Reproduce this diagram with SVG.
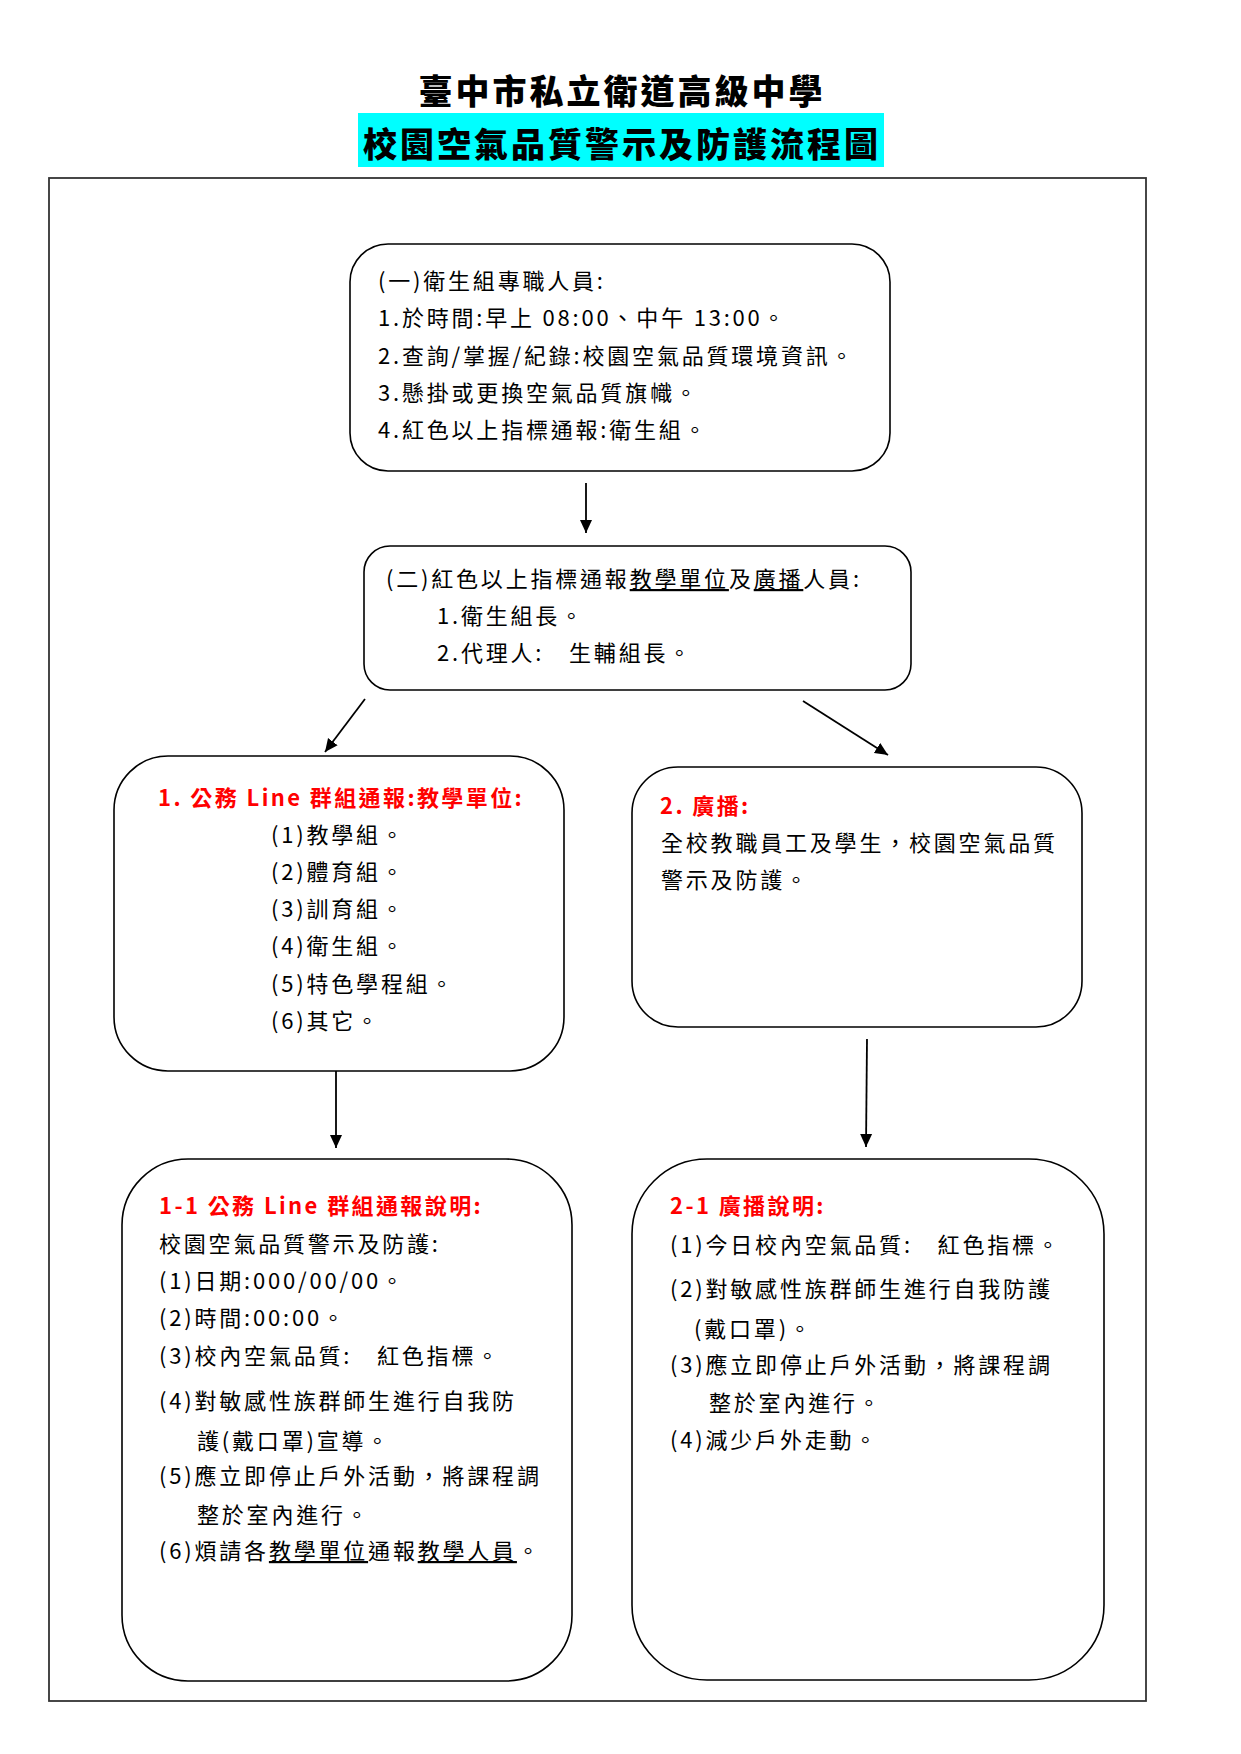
<svg xmlns="http://www.w3.org/2000/svg" width="1241" height="1754" viewBox="0 0 1241 1754">
<defs>
<marker id="arr" markerUnits="userSpaceOnUse" markerWidth="14" markerHeight="14" viewBox="0 0 14 14" refX="13" refY="7" orient="auto">
<path d="M0,1 L13,7 L0,13 z" fill="#000"/>
</marker>
<style>
.t{font-family:"Noto Sans CJK TC","Noto Sans CJK SC",sans-serif;font-size:22px;letter-spacing:2.8px;fill:#000}
.h{font-weight:700;fill:#ff0000;letter-spacing:2.4px}
.ttl{font-family:"Noto Sans CJK TC","Noto Sans CJK SC",sans-serif;font-size:34px;font-weight:900;letter-spacing:3px;fill:#000;text-anchor:middle}
.box{fill:#fff;stroke:#000;stroke-width:1.6}
.u{text-decoration:underline}
.c{stroke:#000;stroke-width:1.8;fill:none}
</style>
</defs>
<rect width="1241" height="1754" fill="#fff"/>

<g id="header">
<text class="ttl" x="622" y="104">臺中市私立衛道高級中學</text>
<rect x="358" y="113" width="526" height="54" fill="#00ffff"/>
<text class="ttl" x="622" y="157">校園空氣品質警示及防護流程圖</text>
</g>

<rect id="frame" x="49" y="178" width="1097" height="1523" fill="none" stroke="#333" stroke-width="1.8"/>

<g id="connectors">
<line class="c" x1="586" y1="483" x2="586" y2="533" marker-end="url(#arr)"/>
<line class="c" x1="365" y1="699" x2="325" y2="752" marker-end="url(#arr)"/>
<line class="c" x1="803" y1="701" x2="888" y2="755" marker-end="url(#arr)"/>
<line class="c" x1="336" y1="1071" x2="336" y2="1148" marker-end="url(#arr)"/>
<line class="c" x1="867" y1="1039" x2="866" y2="1147" marker-end="url(#arr)"/>
</g>

<g id="node1">
<rect class="box" x="350" y="244" width="540" height="227" rx="38" ry="38"/>
<text class="t" x="378" y="289">(一)衛生組專職人員:</text>
<text class="t" x="378" y="326">1.於時間:早上 08:00、中午 13:00。</text>
<text class="t" x="378" y="364">2.查詢/掌握/紀錄:校園空氣品質環境資訊。</text>
<text class="t" x="378" y="401">3.懸掛或更換空氣品質旗幟。</text>
<text class="t" x="378" y="438">4.紅色以上指標通報:衛生組。</text>
</g>

<g id="node2">
<rect class="box" x="364" y="546" width="547" height="144" rx="26" ry="26"/>
<text class="t" x="386" y="587">(二)紅色以上指標通報<tspan class="u">教學單位</tspan>及<tspan class="u">廣播</tspan>人員:</text>
<text class="t" x="437" y="624">1.衛生組長。</text>
<text class="t" x="437" y="661">2.代理人:　生輔組長。</text>
</g>

<g id="node3">
<rect class="box" x="114" y="756" width="450" height="315" rx="54" ry="54"/>
<text class="t h" x="158" y="806">1. 公務 Line 群組通報:教學單位:</text>
<text class="t" x="271" y="843">(1)教學組。</text>
<text class="t" x="271" y="880">(2)體育組。</text>
<text class="t" x="271" y="917">(3)訓育組。</text>
<text class="t" x="271" y="954">(4)衛生組。</text>
<text class="t" x="271" y="992">(5)特色學程組。</text>
<text class="t" x="271" y="1029">(6)其它。</text>
</g>

<g id="node4">
<rect class="box" x="632" y="767" width="450" height="260" rx="46" ry="46"/>
<text class="t h" x="660" y="814">2. 廣播:</text>
<text class="t" x="661" y="851">全校教職員工及學生，校園空氣品質</text>
<text class="t" x="661" y="888">警示及防護。</text>
</g>

<g id="node5">
<rect class="box" x="122" y="1159" width="450" height="522" rx="66" ry="66"/>
<text class="t h" x="159" y="1214">1-1 公務 Line 群組通報說明:</text>
<text class="t" x="159" y="1252">校園空氣品質警示及防護:</text>
<text class="t" x="159" y="1289">(1)日期:000/00/00。</text>
<text class="t" x="159" y="1326">(2)時間:00:00。</text>
<text class="t" x="159" y="1364">(3)校內空氣品質:　紅色指標。</text>
<text class="t" x="159" y="1409">(4)對敏感性族群師生進行自我防</text>
<text class="t" x="197" y="1449">護(戴口罩)宣導。</text>
<text class="t" x="159" y="1484">(5)應立即停止戶外活動，將課程調</text>
<text class="t" x="197" y="1523">整於室內進行。</text>
<text class="t" x="159" y="1559">(6)煩請各<tspan class="u">教學單位</tspan>通報<tspan class="u">教學人員</tspan>。</text>
</g>

<g id="node6">
<rect class="box" x="632" y="1159" width="472" height="521" rx="75" ry="75"/>
<text class="t h" x="670" y="1214">2-1 廣播說明:</text>
<text class="t" x="670" y="1253">(1)今日校內空氣品質:　紅色指標。</text>
<text class="t" x="670" y="1297">(2)對敏感性族群師生進行自我防護</text>
<text class="t" x="694" y="1337">(戴口罩)。</text>
<text class="t" x="670" y="1373">(3)應立即停止戶外活動，將課程調</text>
<text class="t" x="709" y="1411">整於室內進行。</text>
<text class="t" x="670" y="1448">(4)減少戶外走動。</text>
</g>
</svg>
